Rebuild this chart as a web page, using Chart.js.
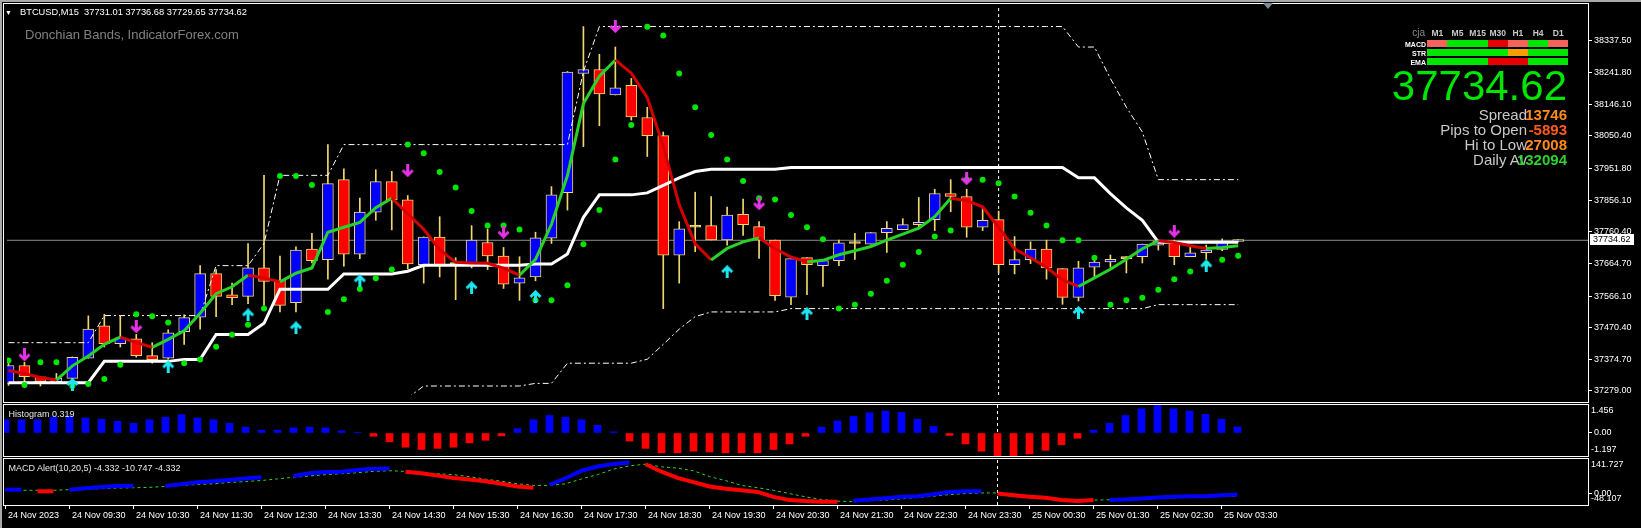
<!DOCTYPE html>
<html>
<head>
<meta charset="utf-8">
<title>BTCUSD,M15</title>
<script src="https://cdn.jsdelivr.net/npm/chart.js@4.4.1/dist/chart.umd.min.js"></script>
<style>
  html, body { margin: 0; padding: 0; background: #000; }
  body { position: relative; width: 1641px; height: 528px; overflow: hidden; font-family: "Liberation Sans", Arial, sans-serif; }
  .frame { position: absolute; box-sizing: border-box; border: 1px solid #fff; }
  canvas { position: absolute; left: 0; }
  .t { position: absolute; line-height: 1; white-space: pre; }
</style>
</head>
<body>
<div style="position:absolute;left:0;top:0;width:1641px;height:2px;background:#a8a8a8"></div>
<div style="position:absolute;left:0;top:0;width:2px;height:528px;background:#a8a8a8"></div>
<div class="frame" style="left:3px;top:3px;width:1586px;height:400px"></div>
<div class="frame" style="left:3px;top:404px;width:1586px;height:53px"></div>
<div class="frame" style="left:3px;top:458px;width:1586px;height:48px"></div>
<div style="position:absolute;left:1263px;top:3px;width:0;height:0;border-left:5px solid transparent;border-right:5px solid transparent;border-top:6px solid #7d8b99"></div>
<canvas id="main" width="1641" height="402" style="top:0"></canvas>
<canvas id="hist" width="1641" height="51" style="top:405px"></canvas>
<canvas id="macd" width="1641" height="69" style="top:459px"></canvas>
<div id="overlay"></div>
<script>
// BTCUSD M15 bars, 24 Nov 08:30 -> 25 Nov 03:45 (one entry per bar)
const opens = [37302, 37356, 37322, 37307, 37317, 37378, 37476, 37422, 37437, 37386,
  37378, 37458, 37502, 37634, 37570, 37565, 37651, 37614, 37546, 37708,
  37676, 37918, 37693, 37820, 37912, 37857, 37661, 37744, 37661, 37661,
  37728, 37687, 37605, 37624, 37741, 37879, 38239, 38251, 38174, 38203,
  38106, 38051, 37690, 37774, 37779, 37736, 37813, 37776, 37735, 37563,
  37682, 37658, 37673, 37725, 37723, 37758, 37767, 37782, 37797, 37876,
  37867, 37774, 37797, 37661, 37676, 37708, 37649, 37562, 37653, 37669,
  37679, 37685, 37720, 37732, 37685, 37697, 37707, 37731.01];
const highs = [37364, 37366, 37323, 37332, 37382, 37506, 37511, 37506, 37450, 37425,
  37464, 37509, 37658, 37646, 37605, 37725, 37931, 37687, 37715, 37756,
  38024, 37951, 37862, 37948, 37943, 37870, 37745, 37806, 37682, 37779,
  37769, 37713, 37685, 37759, 37897, 38245, 38381, 38297, 38319, 38224,
  38137, 38062, 37791, 37880, 37867, 37835, 37859, 37791, 37735, 37679,
  37682, 37673, 37735, 37756, 37758, 37791, 37800, 37864, 37889, 37918,
  37889, 37836, 37823, 37746, 37730, 37735, 37649, 37671, 37682, 37690,
  37685, 37723, 37736, 37735, 37715, 37720, 37739, 37736.68];
const lows = [37296, 37302, 37294, 37302, 37302, 37378, 37412, 37412, 37381, 37363,
  37375, 37420, 37466, 37504, 37540, 37543, 37538, 37518, 37518, 37666,
  37617, 37656, 37679, 37795, 37766, 37648, 37605, 37624, 37555, 37651,
  37646, 37589, 37553, 37612, 37725, 37826, 38018, 38081, 38174, 38098,
  37988, 37528, 37605, 37700, 37736, 37720, 37749, 37680, 37553, 37540,
  37570, 37595, 37658, 37677, 37723, 37698, 37767, 37774, 37764, 37821,
  37744, 37764, 37636, 37633, 37664, 37617, 37541, 37551, 37624, 37653,
  37636, 37666, 37705, 37661, 37685, 37677, 37703, 37729.65];
const closes = [37356, 37322, 37307, 37317, 37381, 37466, 37422, 37440, 37386, 37374,
  37455, 37501, 37634, 37565, 37561, 37651, 37610, 37538, 37705, 37673,
  37906, 37693, 37820, 37912, 37857, 37663, 37744, 37661, 37661, 37735,
  37687, 37602, 37621, 37742, 37872, 38243, 38251, 38177, 38196, 38108,
  38051, 37690, 37769, 37774, 37736, 37811, 37782, 37736, 37567, 37679,
  37661, 37673, 37727, 37725, 37758, 37771, 37782, 37789, 37876, 37867,
  37774, 37795, 37661, 37676, 37708, 37651, 37562, 37651, 37669, 37677,
  37679, 37723, 37732, 37685, 37697, 37705, 37732, 37734.62];

// Donchian Bands (upper / lower dash-dot, middle thick white)
const donchianUpper = [37425, 37425, 37425, 37425, 37425, 37425, 37507, 37507, 37507, 37507,
  37507, 37507, 37507, 37658, 37658, 37658, 37725, 37931, 37931, 37931,
  37931, 38024, 38024, 38024, 38024, 38024, 38024, 38024, 38024, 38024,
  38024, 38024, 38024, 38024, 38024, 38024, 38245, 38381, 38381, 38381,
  38381, 38381, 38381, 38381, 38381, 38381, 38381, 38381, 38381, 38381,
  38381, 38381, 38381, 38381, 38381, 38381, 38381, 38381, 38381, 38381,
  38381, 38381, 38381, 38381, 38381, 38381, 38381, 38319, 38319, 38224,
  38137, 38062, 37918, 37918, 37918, 37918, 37918, 37918];
const donchianLower = [37183, 37183, 37183, 37183, 37183, 37183, 37230, 37230, 37230, 37230,
  37230, 37242, 37242, 37242, 37242, 37242, 37242, 37242, 37242, 37242,
  37242, 37242, 37242, 37242, 37242, 37258, 37294, 37294, 37294, 37294,
  37294, 37294, 37294, 37302, 37302, 37363, 37363, 37363, 37363, 37363,
  37375, 37420, 37466, 37504, 37518, 37518, 37518, 37518, 37518, 37528,
  37528, 37528, 37528, 37528, 37528, 37528, 37528, 37528, 37528, 37528,
  37528, 37528, 37528, 37528, 37528, 37528, 37528, 37528, 37528, 37528,
  37528, 37528, 37540, 37540, 37540, 37540, 37540, 37540];
const donchianMid = [37304, 37304, 37304, 37304, 37304, 37304, 37368.5, 37368.5, 37368.5, 37368.5,
  37368.5, 37374.5, 37374.5, 37450, 37450, 37450, 37483.5, 37586.5, 37586.5, 37586.5,
  37586.5, 37633, 37633, 37633, 37633, 37641, 37659, 37659, 37659, 37659,
  37659, 37659, 37659, 37663, 37663, 37693.5, 37804, 37872, 37872, 37872,
  37878, 37900.5, 37923.5, 37942.5, 37949.5, 37949.5, 37949.5, 37949.5, 37949.5, 37954.5,
  37954.5, 37954.5, 37954.5, 37954.5, 37954.5, 37954.5, 37954.5, 37954.5, 37954.5, 37954.5,
  37954.5, 37954.5, 37954.5, 37954.5, 37954.5, 37954.5, 37954.5, 37923.5, 37923.5, 37876,
  37832.5, 37795, 37729, 37729, 37729, 37729, 37729, 37729];

// colored moving average (green rising / red falling)
const maLine = [37341, 37332, 37320, 37312, 37355, 37385, 37420, 37442, 37425, 37411,
  37435, 37461, 37514, 37573, 37594, 37629, 37621, 37609, 37635, 37651,
  37759, 37774, 37789, 37833, 37862, 37815, 37768, 37706, 37668, 37666,
  37665, 37650, 37629, 37677, 37783, 37930, 38148, 38231, 38280, 38240,
  38166, 38019, 37842, 37724, 37675, 37710, 37730, 37742, 37709, 37684,
  37669, 37674, 37691, 37703, 37716, 37735, 37753, 37771, 37806, 37862,
  37855, 37836, 37774, 37709, 37682, 37653, 37615, 37595, 37621, 37647,
  37677, 37709, 37733, 37728, 37718, 37710, 37713, 37718];

// green dots
const sarDots = [37371, 37297, 37366, 37366, 37294, 37300, 37315, 37358, 37511, 37505,
  37486, 37363, 37374, 37413, 37449, 37479, 37528, 37929, 37929, 37902,
  37518, 37556, 37587, 37620, 37646, 38024, 37998, 37941, 37894, 37823,
  37779, 37779, 37767, 37553, 37553, 37599, 37723, 37826, 37979, 38083,
  38380, 38354, 38239, 38137, 38053, 37979, 37914, 37862, 37858, 37811,
  37774, 37738, 37528, 37540, 37573, 37612, 37661, 37699, 37746, 37764,
  37918, 37918, 37907, 37867, 37818, 37779, 37735, 37735, 37682, 37540,
  37553, 37561, 37585, 37617, 37640, 37663, 37676, 37688];

// signal arrows
const sellBars = [1, 8, 25, 31, 38, 47, 60, 73];
const sellPrices = [37388, 37473, 37945, 37759, 38381, 37845, 37921, 37762];
const buyBars = [4, 10, 15, 18, 22, 29, 33, 45, 50, 67, 75];
const buyPrices = [37299, 37352, 37509, 37470, 37612, 37591, 37565, 37640, 37513, 37516, 37657];

// Histogram sub window
const histValues = [0.69, 0.69, 0.69, 0.82, 0.88, 0.78, 0.72, 0.61, 0.50, 0.69,
  0.82, 0.95, 0.78, 0.69, 0.50, 0.30, 0.15, 0.15, 0.27, 0.30,
  0.27, 0.11, 0.04, -0.17, -0.46, -0.74, -0.86, -0.80, -0.74, -0.51,
  -0.38, -0.15, 0.23, 0.69, 0.91, 0.82, 0.69, 0.40, 0.06, -0.42,
  -0.80, -1.03, -1.03, -0.95, -0.99, -1.03, -1.03, -1.03, -0.86, -0.57,
  -0.17, 0.30, 0.63, 0.86, 1.05, 1.14, 1.07, 0.72, 0.34, -0.13,
  -0.57, -0.95, -1.197, -1.18, -1.09, -0.90, -0.61, -0.27, 0.15, 0.50,
  0.91, 1.26, 1.456, 1.26, 1.14, 0.97, 0.72, 0.319];
const histRange = [-1.197, 1.456];

// MACD Alert(10,20,5) sub window
const macdMain = [15.2, 15.2, 8.4, 8.4, 15.2, 20.6, 25.9, 30, 31.3, 30,
  30, 38, 46.1, 50.2, 55.5, 60.9, 66.3, 69, 71.7, 82.5,
  87.9, 89.2, 95.9, 101.3, 102.7, 89.2, 82.5, 73.1, 63.6, 56.9,
  50.2, 39.4, 28.6, 23.2, 35.4, 62.3, 93.2, 110.7, 121.5, 126.9,
  120.2, 89.2, 63.6, 46.1, 28.6, 19.2, 12.5, 5.7, -14.5, -27.9,
  -32, -34.6, -34.6, -30.6, -25.2, -19.8, -14.5, -11.8, -3.7, 5.7,
  8.4, 8.4, -1, -7.7, -14.5, -18.5, -27.9, -32, -27.9, -27.9,
  -25.2, -21.2, -17.2, -14.5, -11.8, -11.8, -7.7, -4.332];
const macdSignal = [12.5, 12.5, 12.5, 12.5, 15.2, 17.9, 19.2, 21.9, 23.2, 24.6,
  28.6, 32.7, 36.7, 39.4, 44.8, 48.8, 52.9, 59.6, 66.3, 71.7,
  77.1, 81.1, 85.2, 90.6, 93.3, 90.6, 85.2, 81.1, 77.1, 69,
  58.3, 50.2, 39.4, 32.7, 32.7, 39.4, 59.6, 77.1, 100, 113.5,
  120.2, 109.4, 104, 93.3, 69, 52.9, 32.7, 23.2, 12.5, -1,
  -14.5, -25.2, -32, -34.6, -30.6, -27.9, -22.5, -17.2, -11.8, -5,
  -1, 1.7, 1.7, -3.7, -14.5, -18.5, -22.5, -27.9, -27.9, -26.5,
  -24.5, -22.5, -20.5, -18.5, -16.5, -14.5, -12.6, -10.747];
// b = blue section, r = red section, - = not drawn
const macdState = ['bb', 'rr', 'bbbbb', '-', 'bbbbbbb', '-', 'bbbbbbb', 'rrrrrrrrr', 'bbbbbb',
  'rrrrrrrrrrrrr', 'bbbbbbbbb', 'rrrrrrr', 'bbbbbbbbb'].join('').split('');
const macdRange = [-48.107, 141.727];

// axes
const priceTicks = [38337.5, 38241.8, 38146.1, 38050.4, 37951.8, 37856.1, 37760.4, 37664.7, 37566.1, 37470.4, 37374.7, 37279.0];
const timeTickBars = [0, 4, 8, 12, 16, 20, 24, 28, 32, 36, 40, 44, 48, 52, 56, 60, 64, 68, 72, 76];
const timeTickLabels = ['24 Nov 2023', '24 Nov 09:30', '24 Nov 10:30', '24 Nov 11:30', '24 Nov 12:30',
  '24 Nov 13:30', '24 Nov 14:30', '24 Nov 15:30', '24 Nov 16:30', '24 Nov 17:30', '24 Nov 18:30',
  '24 Nov 19:30', '24 Nov 20:30', '24 Nov 21:30', '24 Nov 22:30', '24 Nov 23:30', '25 Nov 00:30',
  '25 Nov 01:30', '25 Nov 02:30', '25 Nov 03:30'];
const daySeparatorBar = 62;

// info panel (top right)
const tfNames = ['M1', 'M5', 'M15', 'M30', 'H1', 'H4', 'D1'];
const panelRows = ['MACD', 'STR', 'EMA'];
const panelCells = [['s', 'g', 'g', 'r', 's', 'g', 's'],
                    ['g', 'g', 'g', 'g', 'o', 'g', 'g'],
                    ['g', 'g', 'g', 'r', 'r', 'g', 'g']];
const statLabels = ['Spread', 'Pips to Open', 'Hi to Low', 'Daily Av'];
const statValues = ['13746', '-5893', '27008', '132094'];

// ---------------------------------------------------------------
const FONT = '"Liberation Sans", Arial, sans-serif';
Chart.defaults.font.family = FONT;
Chart.defaults.font.size = 9;
Chart.defaults.color = '#fff';

const xMin = -0.09375, xMax = 98.90625;
const yMin = 37266.8, yMax = 38440.1;
const last = closes.length - 1;
const lastPrice = closes[last];

const edge = '#f0d86e';
const bull = '#0000ff', bear = '#ff0000';
const maGreen = '#28d228', maRed = '#d40000';

const series = arr => arr.map((v, i) => ({ x: i, y: v }));
const sepLine = (lo, hi) => ({
  type: 'line', data: [{ x: daySeparatorBar, y: lo }, { x: daySeparatorBar, y: hi }],
  borderColor: '#fff', borderWidth: 1, borderDash: [3, 3], pointRadius: 0, order: 25
});

function arrowImage(color, down) {
  const c = document.createElement('canvas');
  c.width = 13; c.height = 13;
  const g = c.getContext('2d');
  g.strokeStyle = color;
  g.lineWidth = 3;
  g.beginPath();
  if (down) {
    g.moveTo(6.5, 0); g.lineTo(6.5, 11);
    g.moveTo(1.5, 6); g.lineTo(6.5, 11); g.lineTo(11.5, 6);
  } else {
    g.moveTo(6.5, 13); g.lineTo(6.5, 2);
    g.moveTo(1.5, 7); g.lineTo(6.5, 2); g.lineTo(11.5, 7);
  }
  g.stroke();
  return c;
}

const xHidden = { type: 'linear', min: xMin, max: xMax, display: false, offset: false, grid: { offset: false } };
const fixY = w => s => { s.width = w; s.paddingTop = 0; s.paddingBottom = 0; };

const priceBox = {
  id: 'priceBox',
  afterDraw(chart) {
    const { ctx, chartArea } = chart;
    const y = Math.round(chart.scales.y.getPixelForValue(lastPrice)) - 1;
    ctx.save();
    ctx.fillStyle = '#fff';
    ctx.fillRect(chartArea.right + 2, y - 5, 44, 11);
    ctx.fillStyle = '#000';
    ctx.font = '9px ' + FONT;
    ctx.textBaseline = 'middle';
    ctx.fillText(lastPrice.toFixed(2), chartArea.right + 5, y + 0.5);
    ctx.restore();
  }
};

const edgeLabels = {
  id: 'edgeLabels',
  afterDraw(chart, args, opts) {
    const { ctx, chartArea } = chart;
    ctx.save();
    ctx.fillStyle = '#fff';
    ctx.font = '9px ' + FONT;
    ctx.textBaseline = 'top';
    ctx.fillText(opts.top, chartArea.right + 3, chartArea.top + 1);
    ctx.textBaseline = 'bottom';
    ctx.fillText(opts.bottom, chartArea.right + 3, chartArea.bottom - opts.gap);
    ctx.restore();
  }
};

// main price window
new Chart(document.getElementById('main'), {
  type: 'bar',
  data: {
    datasets: [
      { type: 'line', data: [{ x: xMin, y: lastPrice }, { x: xMax, y: lastPrice }],
        borderColor: '#8c8c8c', borderWidth: 1, pointRadius: 0, order: 30 },
      sepLine(yMin, yMax),
      { type: 'bar', data: opens.map((o, i) => ({ x: i, y: [lows[i], highs[i]] })),
        backgroundColor: edge, barThickness: 1, grouped: false, order: 20 },
      { type: 'bar', data: opens.map((o, i) => ({ x: i, y: [o, closes[i]] })),
        backgroundColor: opens.map((o, i) => closes[i] > o ? bull : closes[i] < o ? bear : edge),
        borderColor: edge, borderWidth: 1, borderSkipped: false, barThickness: 11,
        minBarLength: 2, grouped: false, order: 19 },
      { type: 'line', data: series(donchianUpper), borderColor: '#fff', borderWidth: 1,
        borderDash: [6, 3, 2, 3], pointRadius: 0, order: 8 },
      { type: 'line', data: series(donchianLower), borderColor: '#fff', borderWidth: 1,
        borderDash: [6, 3, 2, 3], pointRadius: 0, order: 8 },
      { type: 'line', data: series(donchianMid), borderColor: '#fff', borderWidth: 3,
        pointRadius: 0, order: 6 },
      { type: 'line', data: series(maLine), borderColor: maGreen, borderWidth: 3, pointRadius: 0,
        segment: { borderColor: c => c.p1.parsed.y < c.p0.parsed.y ? maRed : maGreen }, order: 5 },
      { type: 'line', data: series(sarDots), showLine: false, pointRadius: 3,
        pointBackgroundColor: '#00e600', pointBorderWidth: 0, order: 3 },
      { type: 'line', data: sellBars.map((b, k) => ({ x: b, y: sellPrices[k] })), showLine: false,
        pointStyle: arrowImage('#e632e6', true), pointRadius: 6, order: 2 },
      { type: 'line', data: buyBars.map((b, k) => ({ x: b, y: buyPrices[k] })), showLine: false,
        pointStyle: arrowImage('#1ee6f0', false), pointRadius: 6, order: 2 }
    ]
  },
  options: {
    responsive: false, animation: false, events: [],
    layout: { padding: { left: 4, top: 4, right: 0, bottom: 0 } },
    plugins: { legend: { display: false }, tooltip: { enabled: false } },
    scales: {
      x: xHidden,
      y: {
        type: 'linear', position: 'right', min: yMin, max: yMax,
        afterBuildTicks: s => { s.ticks = priceTicks.map(v => ({ value: v })); },
        afterFit: fixY(53),
        ticks: { color: '#fff', padding: 2, autoSkip: false, callback: v => v.toFixed(2) },
        grid: { drawOnChartArea: false, drawTicks: true, tickLength: 4, color: '#fff' },
        border: { display: false }
      }
    }
  },
  plugins: [priceBox]
});

// histogram window
new Chart(document.getElementById('hist'), {
  type: 'bar',
  data: {
    datasets: [
      { type: 'bar', data: series(histValues), backgroundColor: histValues.map(v => v >= 0 ? bull : bear),
        barThickness: 7, grouped: false, order: 2 },
      sepLine(histRange[0], histRange[1])
    ]
  },
  options: {
    responsive: false, animation: false, events: [],
    layout: { padding: { left: 4, top: 0, right: 0, bottom: 0 } },
    plugins: { legend: { display: false }, tooltip: { enabled: false },
      edgeLabels: { top: histRange[1].toFixed(3), bottom: histRange[0].toFixed(3), gap: 2 } },
    scales: {
      x: xHidden,
      y: {
        type: 'linear', position: 'right', min: histRange[0], max: histRange[1],
        afterBuildTicks: s => { s.ticks = [{ value: 0 }]; },
        afterFit: fixY(53),
        ticks: { color: '#fff', padding: 2, callback: v => v.toFixed(2) },
        grid: { drawOnChartArea: false, drawTicks: true, tickLength: 4, color: '#fff' },
        border: { display: false }
      }
    }
  },
  plugins: [edgeLabels]
});

// MACD window with the time axis
new Chart(document.getElementById('macd'), {
  type: 'line',
  data: {
    datasets: [
      { data: series(macdSignal), borderColor: '#32cd32', borderWidth: 1, borderDash: [3, 3],
        pointRadius: 0, order: 3 },
      { data: series(macdMain), borderColor: bull, borderWidth: 4, pointRadius: 0, borderCapStyle: 'butt',
        segment: { borderColor: c => {
          const a = macdState[c.p0DataIndex], b = macdState[c.p1DataIndex];
          return a !== '-' && a === b ? (a === 'b' ? bull : bear) : 'rgba(0,0,0,0)';
        } }, order: 2 },
      sepLine(macdRange[0], macdRange[1])
    ]
  },
  options: {
    responsive: false, animation: false, events: [],
    layout: { padding: { left: 4, top: 0, right: 0, bottom: 0 } },
    plugins: { legend: { display: false }, tooltip: { enabled: false },
      edgeLabels: { top: macdRange[1].toFixed(3), bottom: macdRange[0].toFixed(3), gap: 2 } },
    scales: {
      x: {
        type: 'linear', min: xMin, max: xMax, offset: false,
        afterBuildTicks: s => { s.ticks = timeTickBars.map(v => ({ value: v })); },
        afterFit: s => { s.height = 23; s.paddingLeft = 0; s.paddingRight = 0; },
        ticks: { color: '#fff', align: 'start', maxRotation: 0, autoSkip: false, padding: 1,
          callback: v => ' ' + timeTickLabels[timeTickBars.indexOf(v)] },
        grid: { drawOnChartArea: false, drawTicks: true, tickLength: 4, color: '#fff', offset: false },
        border: { display: false }
      },
      y: {
        type: 'linear', position: 'right', min: macdRange[0], max: macdRange[1],
        afterBuildTicks: s => { s.ticks = [{ value: 0 }]; },
        afterFit: fixY(53),
        ticks: { color: '#fff', padding: 2, callback: v => v.toFixed(2) },
        grid: { drawOnChartArea: false, drawTicks: true, tickLength: 4, color: '#fff' },
        border: { display: false }
      }
    }
  },
  plugins: [edgeLabels]
});

// ---- text objects on the chart ----
const overlay = document.getElementById('overlay');
function addText(txt, x, y, css, align) {
  const d = document.createElement('div');
  d.className = 't';
  d.textContent = txt;
  d.style.cssText += css;
  d.style.left = x + 'px';
  d.style.top = y + 'px';
  const ax = align === 'right' ? '-100%' : align === 'center' ? '-50%' : '0';
  d.style.transform = 'translate(' + ax + ', -50%)';
  overlay.appendChild(d);
}
function addBox(x, y, w, h, color) {
  const d = document.createElement('div');
  d.style.cssText = 'position:absolute;left:' + x + 'px;top:' + y + 'px;width:' + w + 'px;height:' + h + 'px;background:' + color;
  overlay.appendChild(d);
}

addText('\u25BC', 5, 12, 'font-size:7px;color:#fff');
addText('BTCUSD,M15  ' + [opens[last], highs[last], lows[last], closes[last]].map(v => v.toFixed(2)).join(' '),
  20, 12.5, 'font-size:9.3px;color:#fff');
addText('Donchian Bands, IndicatorForex.com', 25, 34, 'font-size:13px;color:#808080');
addText('Histogram ' + histValues[last].toFixed(3), 8.5, 414, 'font-size:9px;color:#e6e6e6');
addText('MACD Alert(10,20,5) ' + macdMain[last].toFixed(3) + ' ' + macdSignal[last].toFixed(3) + ' ' + macdMain[last].toFixed(3),
  8.5, 468, 'font-size:9px;color:#e6e6e6');

const cellColor = { g: '#00e600', r: '#e60000', s: '#f5645a', o: '#f5a000' };
const cellX0 = 1427.3, cellW = 20.14, cellH = 6.4, rowTops = [40.4, 49.4, 58.4];
addText('cja', 1425, 33, 'font-size:10px;color:#8a8a8a', 'right');
tfNames.forEach((tf, k) => addText(tf, cellX0 + cellW * (k + 0.5), 33, 'font-size:8.5px;font-weight:bold;color:#c8c8c8', 'center'));
panelRows.forEach((name, r) => {
  panelCells[r].forEach((c, k) => addBox(cellX0 + cellW * k, rowTops[r], cellW + 0.2, cellH, cellColor[c]));
  addText(name, 1426, rowTops[r] + cellH / 2, 'font-size:7px;font-weight:bold;color:#fff', 'right');
});
addText(lastPrice.toFixed(2), 1567, 86, 'font-size:42px;color:#00e600', 'right');
const statColors = ['#ff8c1a', '#ff5a1e', '#ff8c1a', '#2fd02f'];
statLabels.forEach((lab, k) => {
  const y = 114 + 15 * k;
  addText(lab, 1527, y, 'font-size:15px;color:#c8c8c8', 'right');
  addText(statValues[k], 1567, y, 'font-size:15px;font-weight:bold;color:' + statColors[k], 'right');
});
</script>
</body>
</html>
